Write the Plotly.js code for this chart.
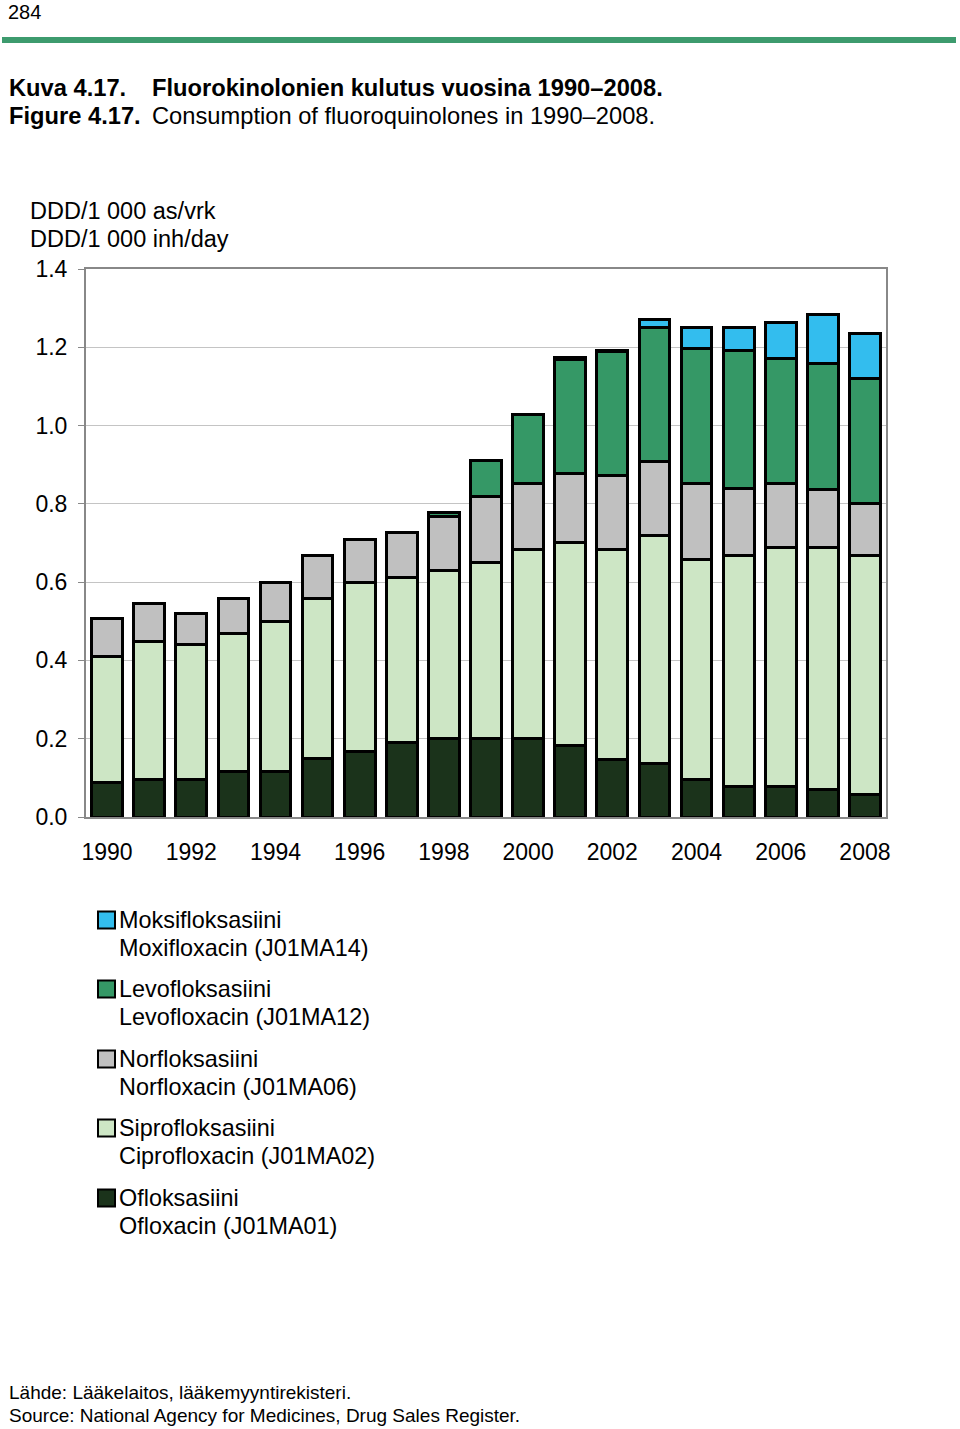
<!DOCTYPE html>
<html>
<head>
<meta charset="utf-8">
<script src="https://cdn.plot.ly/plotly-3.0.1.min.js"></script>
<style>
html,body{margin:0;padding:0;background:#fff;}
#chart{width:960px;height:1429px;}
</style>
</head>
<body>
<div id="chart"></div>
<script>
// ---- data ----
const years = [1990,1991,1992,1993,1994,1995,1996,1997,1998,1999,2000,2001,2002,2003,2004,2005,2006,2007,2008];
const ofloxacin     = [0.089,0.096,0.096,0.116,0.116,0.149,0.168,0.190,0.200,0.200,0.200,0.183,0.148,0.137,0.097,0.077,0.077,0.071,0.058];
const ciprofloxacin = [0.320,0.352,0.345,0.353,0.384,0.409,0.430,0.421,0.431,0.450,0.483,0.519,0.536,0.583,0.560,0.592,0.611,0.617,0.611];
const norfloxacin   = [0.098,0.098,0.079,0.089,0.098,0.111,0.112,0.117,0.137,0.169,0.169,0.176,0.188,0.189,0.195,0.169,0.163,0.149,0.131];
const levofloxacin  = [0,0,0,0,0,0,0,0,0.011,0.091,0.177,0.291,0.317,0.341,0.345,0.353,0.320,0.322,0.319];
const moxifloxacin  = [0,0,0,0,0,0,0,0,0,0,0,0,0,0.020,0.053,0.059,0.092,0.124,0.117];
const other         = [0,0,0,0,0,0,0,0,0,0,0,0.005,0.004,0,0,0,0,0,0];

const seriesNamesFi = ["Ofloksasiini","Siprofloksasiini","Norfloksasiini","Levofloksasiini","Moksifloksasiini"];
const seriesNamesEn = ["Ofloxacin (J01MA01)","Ciprofloxacin (J01MA02)","Norfloxacin (J01MA06)","Levofloxacin (J01MA12)","Moxifloxacin (J01MA14)"];
const seriesColors  = ["#1b331b","#cde6c5","#c0c0c0","#359866","#33bdee"];
const seriesValues  = [ofloxacin, ciprofloxacin, norfloxacin, levofloxacin, moxifloxacin];

const yTickVals = [0,0.2,0.4,0.6,0.8,1.0,1.2,1.4];
const xTickVals = [1990,1992,1994,1996,1998,2000,2002,2004,2006,2008];

// ---- geometry helpers (plot area pixels) ----
const W = 960, H = 1429;
const PL = 86, PR = 886, PT = 269, PB = 817;
const px = x => (x - PL) / (PR - PL);
const py = y => (PB - y) / (PB - PT);

const FONT = "Liberation Sans, Arial, sans-serif";

const traces = seriesValues.map((vals, i) => ({
  type: "bar",
  x: years,
  y: vals,
  name: seriesNamesFi[i] + " / " + seriesNamesEn[i],
  marker: {color: seriesColors[i], line: {color: "#000", width: 3}},
  showlegend: false,
  hoverinfo: "x+y+name"
}));
traces.push({
  type: "bar", x: years, y: other, name: "other",
  marker: {color: "#000", line: {color: "#000", width: 3}},
  showlegend: false, hoverinfo: "skip"
});

const annotations = [];
const shapes = [];

function txt(text, x, y, size, opts) {
  annotations.push(Object.assign({
    text: text, xref: "paper", yref: "paper", x: px(x), y: py(y),
    xanchor: "left", yanchor: "middle", showarrow: false,
    font: {family: FONT, size: size, color: "#000"}
  }, opts || {}));
}

// page header
txt("284", 7, 0, 20, {yanchor: "top", borderpad: 0});
shapes.push({type: "line", xref: "paper", yref: "paper",
  x0: px(2), x1: px(956), y0: py(40), y1: py(40),
  line: {color: "#3d9b6e", width: 6}});
txt("<b>Kuva 4.17.</b>", 7, 88, 23.7);
txt("<b>Fluorokinolonien kulutus vuosina 1990–2008.</b>", 150, 88, 23.7);
txt("<b>Figure 4.17.</b>", 7, 116, 23.7);
txt("Consumption of fluoroquinolones in 1990–2008.", 150, 116, 23.7);

// y-axis title
txt("DDD/1 000 as/vrk", 28, 211, 23.5);
txt("DDD/1 000 inh/day", 28, 239, 23.5);

// legend (Moksi first, stacked order reversed)
const legTop = [920, 989, 1059, 1128, 1198];
for (let k = 0; k < 5; k++) {
  const i = 4 - k;
  const yc = legTop[k];
  shapes.push({type: "rect", xref: "paper", yref: "paper",
    x0: px(98), x1: px(115), y0: py(yc - 8.5), y1: py(yc + 8.5),
    fillcolor: seriesColors[i], line: {color: "#000", width: 2}});
  txt(seriesNamesFi[i], 117, yc, 23.4);
  txt(seriesNamesEn[i], 117, yc + 28, 23.4);
}

// source
txt("Lähde: Lääkelaitos, lääkemyyntirekisteri.", 7, 1392, 19);
txt("Source: National Agency for Medicines, Drug Sales Register.", 7, 1415, 19);

const layout = {
  width: W, height: H, autosize: false,
  margin: {l: PL, r: W - PR, t: PT, b: H - PB, pad: 0},
  paper_bgcolor: "#fff", plot_bgcolor: "#fff",
  barmode: "stack", bargap: 0.27,
  font: {family: FONT, size: 22, color: "#000"},
  xaxis: {
    range: [1989.5, 2008.5], tickvals: xTickVals, ticktext: xTickVals.map(String),
    showgrid: false, zeroline: false,
    showline: true, linecolor: "#888", linewidth: 2, mirror: true,
    ticks: "outside", ticklen: 0, tickcolor: "rgba(0,0,0,0)",
    ticklabelstandoff: 13,
    tickfont: {family: FONT, size: 23, color: "#000"}
  },
  yaxis: {
    range: [0, 1.4], tickvals: yTickVals, tickformat: ".1f",
    showgrid: true, gridcolor: "#c4c4c4", gridwidth: 1,
    zeroline: false,
    showline: true, linecolor: "#888", linewidth: 2, mirror: true,
    ticks: "outside", ticklen: 6, tickcolor: "#888", tickwidth: 1,
    ticklabelstandoff: 6,
    tickfont: {family: FONT, size: 23, color: "#000"}
  },
  annotations: annotations,
  shapes: shapes,
  showlegend: false
};

Plotly.newPlot("chart", traces, layout, {displayModeBar: false, staticPlot: true});
</script>
</body>
</html>
